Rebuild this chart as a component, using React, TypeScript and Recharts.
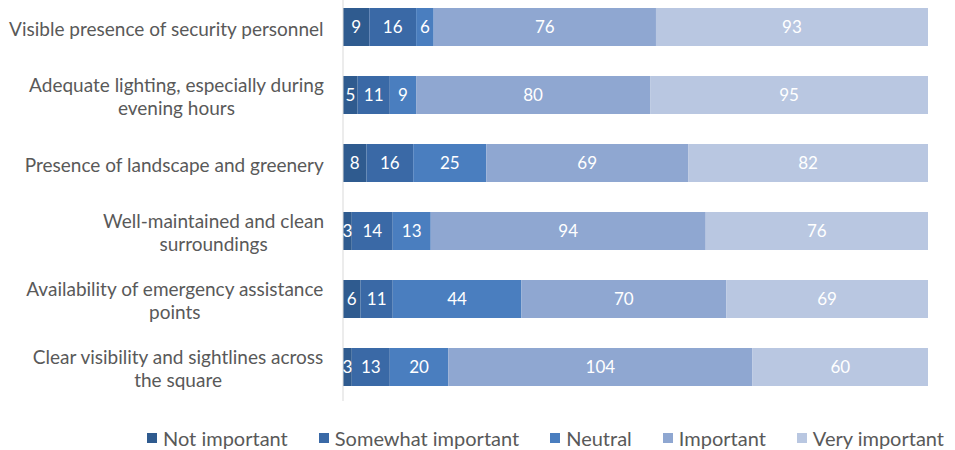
import { BarChart, Bar, XAxis, YAxis, LabelList, Legend } from 'recharts';

const categories = [
  'Visible presence of security personnel',
  'Adequate lighting, especially during\nevening hours',
  'Presence of landscape and greenery',
  'Well-maintained and clean\nsurroundings',
  'Availability of emergency assistance\npoints',
  'Clear visibility and sightlines across\nthe square',
];
const notImportant = [9, 5, 8, 3, 6, 3];
const somewhatImportant = [16, 11, 16, 14, 11, 13];
const neutral = [6, 9, 25, 13, 44, 20];
const important = [76, 80, 69, 94, 70, 104];
const veryImportant = [93, 95, 82, 76, 69, 60];

const series = [
  { key: 'notImportant', name: 'Not important', color: '#2f5b8f' },
  { key: 'somewhatImportant', name: 'Somewhat important', color: '#3a69a6' },
  { key: 'neutral', name: 'Neutral', color: '#4a7ebf' },
  { key: 'important', name: 'Important', color: '#8fa7d1' },
  { key: 'veryImportant', name: 'Very important', color: '#b9c7e1' },
];

const data = categories.map((c, i) => ({
  name: c,
  notImportant: notImportant[i],
  somewhatImportant: somewhatImportant[i],
  neutral: neutral[i],
  important: important[i],
  veryImportant: veryImportant[i],
}));

const FONT = 'Lato, "DejaVu Sans", sans-serif';
const TICK_SIZE = 19;

let ctx: CanvasRenderingContext2D | null = null;
const measure = (s: string) => {
  if (!ctx) ctx = document.createElement('canvas').getContext('2d');
  if (!ctx) return s.length * TICK_SIZE * 0.45;
  ctx.font = `${TICK_SIZE}px Lato`;
  return ctx.measureText(s).width;
};

// right-aligned block, each line centred inside it (like Excel)
const CategoryTick = ({ x, y, payload }: any) => {
  const lines = String(payload.value).split('\n');
  const lh = 23;
  const w = Math.max(...lines.map(measure));
  const cx = x - w / 2;
  const start = y + 2 - ((lines.length - 1) * lh) / 2;
  return (
    <text textAnchor="middle" fill="#595959" fontSize={TICK_SIZE} fontFamily={FONT}>
      {lines.map((l, i) => (
        <tspan key={i} x={cx} y={start + i * lh} dy="0.35em">{l}</tspan>
      ))}
    </text>
  );
};

const LegendContent = () => (
  <div style={{ height: 62, boxSizing: 'border-box', paddingTop: 12, paddingLeft: 147, display: 'flex', fontFamily: FONT, fontSize: 20, color: '#595959', lineHeight: '22px' }}>
    {series.map((s, i) => (
      <div key={s.key} style={{ display: 'flex', alignItems: 'center', marginRight: i < series.length - 1 ? 31 : 0 }}>
        <span style={{ width: 10, height: 10, background: s.color, display: 'inline-block', marginRight: 6 }} />
        <span>{s.name}</span>
      </div>
    ))}
  </div>
);

export default function App() {
  return (
    <div style={{ position: 'absolute', left: 0, top: -7 }}>
      <BarChart
        width={955}
        height={470}
        data={data}
        layout="vertical"
        margin={{ top: 0, right: 27, bottom: 0, left: 0 }}
        barSize={38}
      >
        <XAxis type="number" domain={[0, 200]} hide />
        <YAxis
          type="category"
          dataKey="name"
          width={343}
          axisLine={{ stroke: '#d9d9d9' }}
          tickLine={false}
          tickMargin={13}
          tick={<CategoryTick />}
        />
        <Legend verticalAlign="bottom" content={<LegendContent />} wrapperStyle={{ left: 0, width: 955 }} />
        {series.map((s) => (
          <Bar key={s.key} dataKey={s.key} name={s.name} stackId="a" fill={s.color} isAnimationActive={false}>
            <LabelList dataKey={s.key} position="center" fill="#ffffff" fontSize={17} fontFamily={FONT} />
          </Bar>
        ))}
      </BarChart>
    </div>
  );
}
